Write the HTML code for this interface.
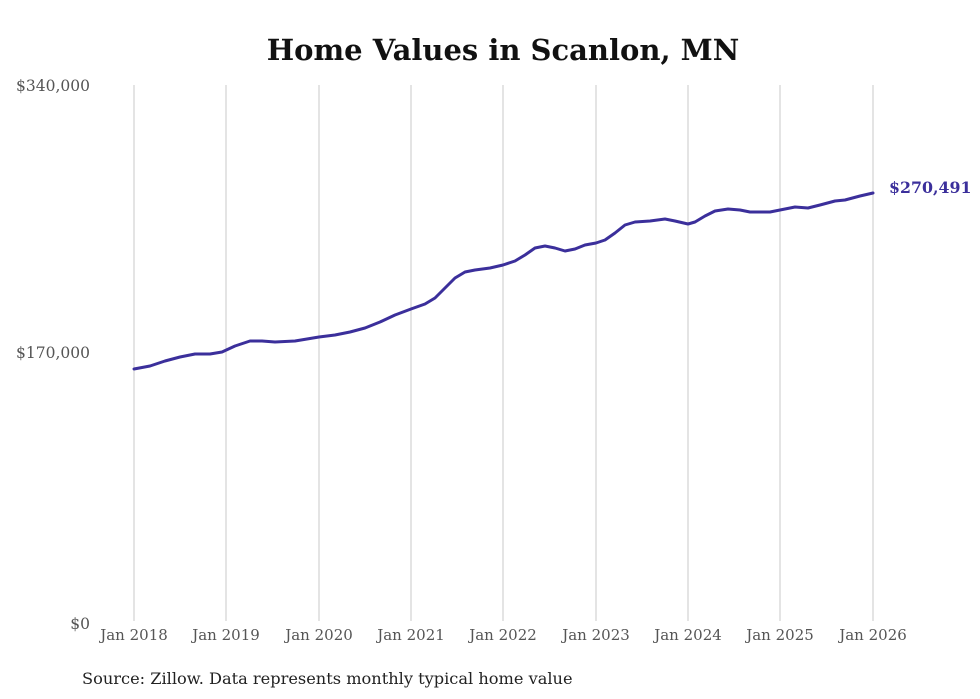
<!DOCTYPE html>
<html><head><meta charset="utf-8"><style>
html,body{margin:0;padding:0;background:#fff;}
svg{display:block;}
text{font-family:"DejaVu Serif","Liberation Serif",serif;}
</style></head><body>
<svg width="980" height="699" viewBox="0 0 980 699" xmlns="http://www.w3.org/2000/svg">
<rect width="980" height="699" fill="#fff"/>
<text x="503" y="60" text-anchor="middle" font-size="29" font-weight="bold" fill="#111">Home Values in Scanlon, MN</text>
<g stroke="#c8c8c8" stroke-width="1">
<line x1="134" y1="85" x2="134" y2="621"/><line x1="226" y1="85" x2="226" y2="621"/>
<line x1="319" y1="85" x2="319" y2="621"/><line x1="411" y1="85" x2="411" y2="621"/>
<line x1="503" y1="85" x2="503" y2="621"/><line x1="596" y1="85" x2="596" y2="621"/>
<line x1="688" y1="85" x2="688" y2="621"/><line x1="780" y1="85" x2="780" y2="621"/>
<line x1="873" y1="85" x2="873" y2="621"/>
</g>
<g font-size="15.5" fill="#555" text-anchor="end">
<text x="90" y="91">$340,000</text>
<text x="90" y="358">$170,000</text>
<text x="90" y="629">$0</text>
</g>
<g font-size="15" fill="#555" text-anchor="middle">
<text x="134" y="640">Jan 2018</text><text x="226" y="640">Jan 2019</text>
<text x="319" y="640">Jan 2020</text><text x="411" y="640">Jan 2021</text>
<text x="503" y="640">Jan 2022</text><text x="596" y="640">Jan 2023</text>
<text x="688" y="640">Jan 2024</text><text x="780" y="640">Jan 2025</text>
<text x="873" y="640">Jan 2026</text>
</g>
<polyline fill="none" stroke="#3b2f9b" stroke-width="3" stroke-linejoin="round" stroke-linecap="round"
points="134,369 150,366 165,361 180,357 195,354 210,354 222,352 235,346 250,341 262,341 275,342 295,341 319,337 335,335 350,332 365,328 380,322 395,315 411,309 425,304 435,298 445,288 455,278 465,272 475,270 490,268 503,265 515,261 525,255 535,248 545,246 555,248 565,251 575,249 585,245 596,243 605,240 615,233 625,225 635,222 650,221 665,219 675,221 688,224 695,222 705,216 715,211 728,209 740,210 750,212 770,212 780,210 795,207 808,208 820,205 835,201 845,200 860,196 873,193"/>
<text x="889" y="193" font-size="15.8" font-weight="bold" fill="#3b2f9b">$270,491</text>
<text x="82" y="684" font-size="16.2" fill="#222">Source: Zillow. Data represents monthly typical home value</text>
</svg>
</body></html>
